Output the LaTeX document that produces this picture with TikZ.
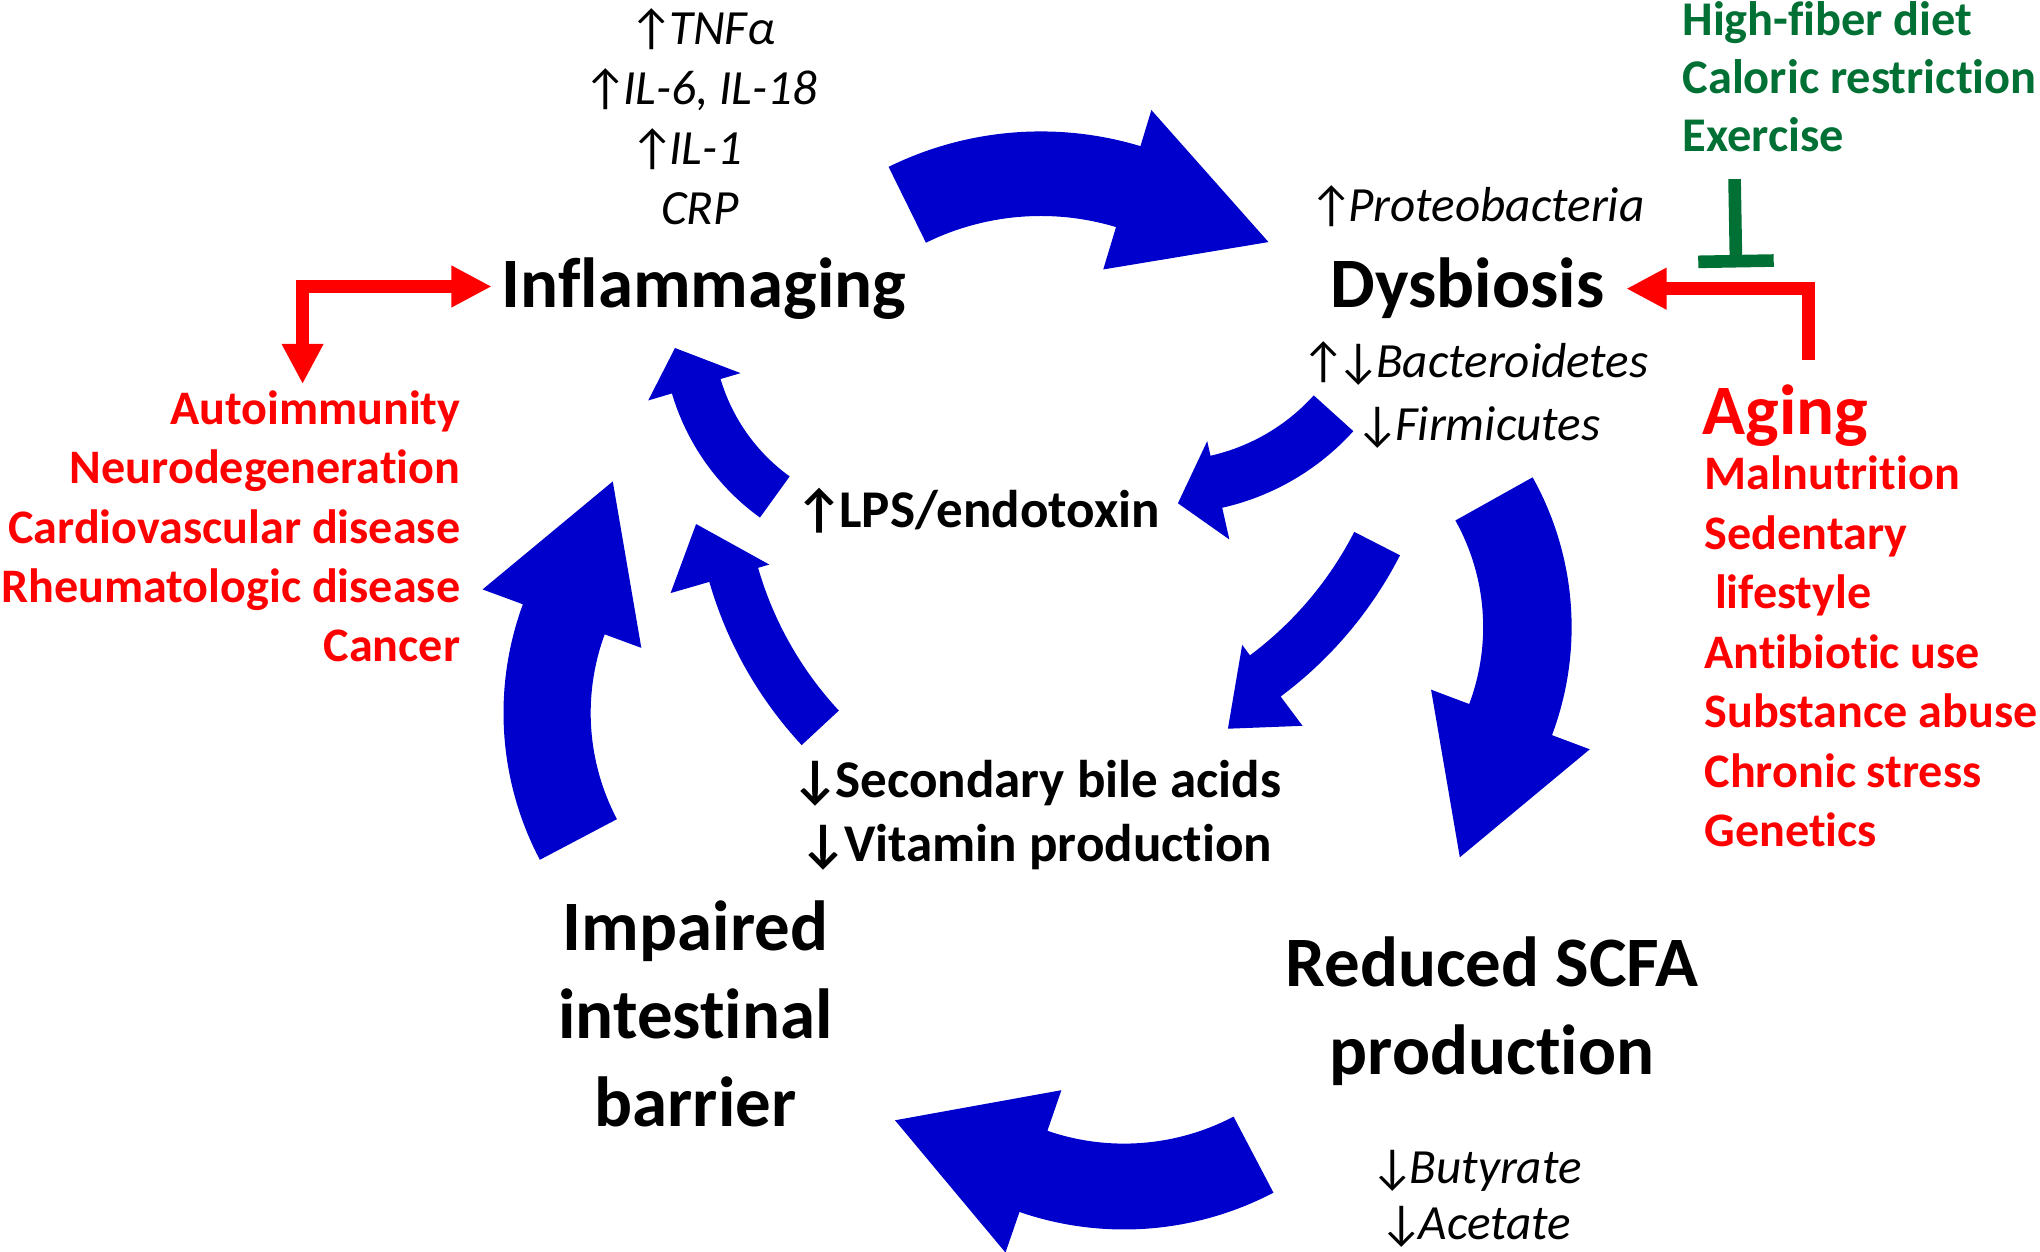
\documentclass[tikz,border=0pt]{standalone}
\usepackage{fontspec}
\setmainfont{Carlito}[Ligatures=NoCommon]
\usetikzlibrary{arrows.meta}
\definecolor{flowblue}{RGB}{0,0,204}
\definecolor{agered}{RGB}{255,0,0}
\definecolor{dietgreen}{RGB}{0,112,52}
\newcommand{\upar}{{\upshape ↑}\kern-4pt}
\newcommand{\dnar}{{\upshape ↓}\kern-4pt}

\begin{document}
\begin{tikzpicture}[x=1pt,y=-1pt,
	>={Triangle[length=31pt,width=30pt]},
	stage/.style = {inner sep=0pt, font=\fontsize{54.5}{66}\selectfont\bfseries},
	marker/.style = {inner sep=0pt, font=\fontsize{37.8}{46}\selectfont\itshape},
	effect/.style = {inner sep=0pt, font=\fontsize{40.8}{49}\selectfont\bfseries},
	cause/.style = {inner sep=0pt, text=agered, font=\fontsize{37}{45}\selectfont\bfseries},
	remedy/.style = {inner sep=0pt, text=dietgreen, font=\fontsize{37.2}{45}\selectfont\bfseries},
	flow/.style = {fill=flowblue},
	redline/.style = {draw=agered, line width=9.5pt, ->},
	inhibit/.style = {draw=dietgreen, line width=9.7pt, -{Bar[width=58pt]}}]
	\useasboundingbox (0,0) rectangle (1568,962);

	% big cycle
	\fill[flow, shift={(800,366)}] (-116.2:265) arc[start angle=-116.2, end angle=-73.2, radius=265]
		-- (-73.2:294) -- (-45.8:251) -- (-73.2:166) -- (-73.2:200)
		arc[start angle=-73.2, end angle=-116.2, radius=200] -- cycle;
	\fill[flow, shift={(972,482)}] (-29.2:236) arc[start angle=-29.2, end angle=20.6, radius=236]
		-- (20.6:267) -- (49.7:232) -- (20.6:136.7) -- (20.6:168)
		arc[start angle=20.6, end angle=-29.2, radius=168] -- cycle;
	\fill[flow, shift={(864,698)}] (62.3:247) arc[start angle=62.3, end angle=109, radius=247]
		-- (109:280) -- (137.2:240) -- (109:148) -- (109:181)
		arc[start angle=109, end angle=62.3, radius=181] -- cycle;
	\fill[flow, shift={(629,548)}] (152.2:242) arc[start angle=152.2, end angle=200.2, radius=242]
		-- (200.2:275) -- (228.4:238) -- (200.2:145) -- (200.2:175)
		arc[start angle=200.2, end angle=152.2, radius=175] -- cycle;
	% inner arrows
	\fill[flow, shift={(897,202)}] (42.1:193) arc[start angle=42.1, end angle=77.3, radius=193]
		-- (77.3:218) -- (87.4:185) -- (77.3:140.5) -- (77.3:152)
		arc[start angle=77.3, end angle=42.1, radius=152] -- cycle;
	\fill[flow, shift={(690,251)}] (125.8:181) arc[start angle=125.8, end angle=163.5, radius=181]
		-- (163.5:200) -- (174.5:172) -- (163.5:126) -- (163.5:142)
		arc[start angle=163.5, end angle=125.8, radius=142] -- cycle;
	\fill[flow, shift={(797,284)}] (27.1:313.5) arc[start angle=27.1, end angle=53.3, radius=313.5]
		-- (53.3:341.6) -- (62:312.7) -- (53.3:264) -- (53.3:274)
		arc[start angle=53.3, end angle=27.1, radius=274] -- cycle;
	\fill[flow, shift={(844,361)}] (137.1:311) arc[start angle=137.1, end angle=163.9, radius=311]
		-- (163.9:342) -- (172.3:311.8) -- (163.9:263) -- (163.9:272)
		arc[start angle=163.9, end angle=137.1, radius=272] -- cycle;

	% inflammaging
	\node[marker, anchor=base] (tnf) at (540,34.4) {\upar TNFα};
	\node[marker, anchor=base] (ilsix) at (538.5,80.6) {\upar IL-6, IL-18};
	\node[marker, anchor=base] (ilone) at (527.5,126.7) {\upar IL-1};
	\node[marker, anchor=base] (crp) at (538,172.8) {CRP};
	\node[stage, anchor=base] (inflammaging) at (541,236.7) {Inflammaging};

	\node[cause, anchor=base east] (autoimmunity) at (354,326) {Autoimmunity};
	\node[cause, anchor=base east] (neuro) at (354,371.7) {Neurodegeneration};
	\node[cause, anchor=base east] (cardio) at (354,417.4) {Cardiovascular disease};
	\node[cause, anchor=base east] (rheuma) at (354,463) {Rheumatologic disease};
	\node[cause, anchor=base east] (cancer) at (354,508.8) {Cancer};

	% dysbiosis
	\node[marker, anchor=base west] (proteo) at (1006,170.6) {\upar Proteobacteria};
	\node[stage, anchor=base] (dysbiosis) at (1128,236.7) {Dysbiosis};
	\node[marker, anchor=base west] (bactero) at (1000,290.5) {\upar\kern-3pt\dnar Bacteroidetes};
	\node[marker, anchor=base west] (firmi) at (1042,338.2) {\dnar Firmicutes};

	\node[remedy, anchor=base west] (fiber) at (1293,27) {High-fiber diet};
	\node[remedy, anchor=base west] (caloric) at (1293,71.5) {Caloric restriction};
	\node[remedy, anchor=base west] (exercise) at (1293,116.5) {Exercise};

	\node[cause, anchor=base west, font=\fontsize{54.5}{66}\selectfont\bfseries] (aging) at (1308.5,334) {Aging};
	\node[cause, anchor=base west] (malnutrition) at (1310,376.6) {Malnutrition};
	\node[cause, anchor=base west] (sedentary) at (1310,422.3) {Sedentary};
	\node[cause, anchor=base west] (lifestyle) at (1318,468) {lifestyle};
	\node[cause, anchor=base west] (antibiotic) at (1310,513.7) {Antibiotic use};
	\node[cause, anchor=base west] (substance) at (1310,559.4) {Substance abuse};
	\node[cause, anchor=base west] (stress) at (1310,605) {Chronic stress};
	\node[cause, anchor=base west] (genetics) at (1310,650.8) {Genetics};

	% middle
	\node[effect, anchor=base west] (lps) at (611,405.8) {↑\kern-3pt LPS/endotoxin};
	\node[effect, anchor=base west] (bile) at (608,612.8) {↓\kern-3pt Secondary bile acids};
	\node[effect, anchor=base west] (vitamin) at (614.6,662) {↓\kern-3pt Vitamin production};

	% barrier and scfa
	\node[stage, anchor=base] (impaired) at (534.6,730.8) {Impaired};
	\node[stage, anchor=base] (intestinal) at (534.6,797.9) {intestinal};
	\node[stage, anchor=base] (barrier) at (534.6,865.5) {barrier};
	\node[stage, anchor=base] (scfa) at (1146.7,757.9) {Reduced SCFA};
	\node[stage, anchor=base] (production) at (1146.7,825.5) {production};
	\node[marker, anchor=base west] (butyrate) at (1053,910) {\dnar Butyrate};
	\node[marker, anchor=base west] (acetate) at (1060,953) {\dnar Acetate};

	\coordinate (agingblock) at (1334.4,205.6);
	\draw[redline, <->] ([xshift=-7.4,yshift=2]inflammaging.west) -| ([xshift=-9.7,yshift=4.6]autoimmunity.north);
	\draw[redline] ([xshift=17.8,yshift=19]aging.north) |- ([xshift=16.6]dysbiosis.east);
	\draw[inhibit] ([xshift=-22,yshift=-20.7]exercise.south) -- (agingblock);
\end{tikzpicture}
\end{document}
